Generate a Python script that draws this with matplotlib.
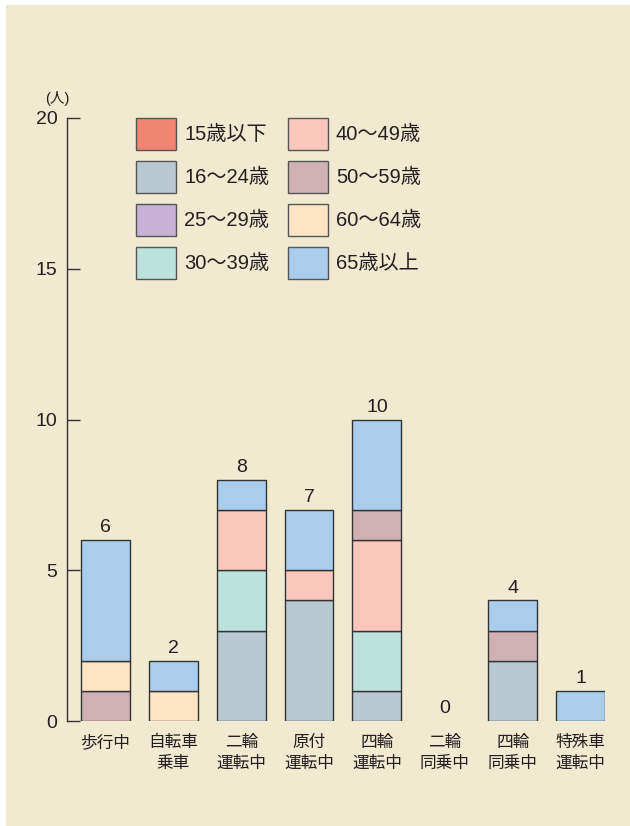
import matplotlib
matplotlib.use("Agg")
import matplotlib.pyplot as plt
from matplotlib.patches import Rectangle, Patch
import numpy as np

plt.rcParams['font.family'] = ['Liberation Sans', 'Noto Sans CJK JP']

categories = ["歩行中", "自転車\n乗車", "二輪\n運転中", "原付\n運転中", "四輪\n運転中",
              "二輪\n同乗中", "四輪\n同乗中", "特殊車\n運転中"]
age_groups = ["15歳以下", "16～24歳", "25～29歳", "30～39歳",
              "40～49歳", "50～59歳", "60～64歳", "65歳以上"]
colors = ["#f28472", "#b9c9d1", "#c9b0d6", "#bde2db",
          "#f9c7bb", "#cfb0b4", "#fde5c3", "#abcdec"]

v_under15 = [0, 0, 0, 0, 0, 0, 0, 0]
v_16_24 = [0, 0, 3, 4, 1, 0, 2, 0]
v_25_29 = [0, 0, 0, 0, 0, 0, 0, 0]
v_30_39 = [0, 0, 2, 0, 2, 0, 0, 0]
v_40_49 = [0, 0, 2, 1, 3, 0, 0, 0]
v_50_59 = [1, 0, 0, 0, 1, 0, 1, 0]
v_60_64 = [1, 1, 0, 0, 0, 0, 0, 0]
v_65plus = [4, 1, 1, 2, 3, 0, 1, 1]
series = [v_under15, v_16_24, v_25_29, v_30_39, v_40_49, v_50_59, v_60_64, v_65plus]

W, H = 630, 826
fig = plt.figure(figsize=(W / 100, H / 100), dpi=100, facecolor="white")
bg = "#f0ead0"
fig.patches.append(Rectangle((6 / W, 0), 1 - 6 / W, (H - 5) / H,
                             transform=fig.transFigure, facecolor=bg,
                             edgecolor="none", zorder=-10))

ax = fig.add_axes([67 / W, 105 / H, (605 - 67) / W, (721 - 118) / H])
ax.set_facecolor("none")

x = np.arange(len(categories))
bottom = np.zeros(len(categories))
for vals, col, lab in zip(series, colors, age_groups):
    vals = np.array(vals, dtype=float)
    mask = vals > 0
    ax.bar(x[mask], vals[mask], width=0.72, bottom=bottom[mask], color=col,
           edgecolor="#333333", linewidth=1.0, zorder=3)
    bottom += vals

textcol = "#231f20"
for xi, tot in zip(x, bottom):
    ax.text(xi, tot + 0.12, f"{int(tot)}", ha="center", va="bottom",
            fontsize=14, color=textcol)

ax.set_xlim(-0.566, 7.36)
ax.set_ylim(0, 20)
ax.set_yticks([0, 5, 10, 15, 20])
ax.set_xticks(x)
ax.set_xticklabels(categories, fontsize=12, color=textcol, linespacing=1.5)
ax.tick_params(axis="x", length=0, pad=10)
ax.tick_params(axis="y", direction="in", length=9.5, width=1.0, color="#333333",
               labelsize=14, labelcolor=textcol, pad=7)
for s in ["top", "right", "bottom"]:
    ax.spines[s].set_visible(False)
ax.spines["left"].set_color("#333333")
ax.spines["left"].set_linewidth(1.0)

fig.text(57 / W, 1 - 99 / H, "(人)", ha="center", va="center",
         fontsize=10.5, color=textcol)

handles = [Patch(facecolor=c, edgecolor="#555555", linewidth=1.0) for c in colors]
leg = ax.legend(handles, age_groups, ncol=2, loc="upper left",
                bbox_to_anchor=(136 / W, 1 - 118 / H), bbox_transform=fig.transFigure,
                frameon=False, fontsize=14.5, handlelength=2.0, handleheight=2.08,
                handletextpad=0.4, labelspacing=0.53, columnspacing=0.9,
                borderpad=0, borderaxespad=0)
for t in leg.get_texts():
    t.set_color(textcol)

fig.savefig("out.png", dpi=100, facecolor="white")
